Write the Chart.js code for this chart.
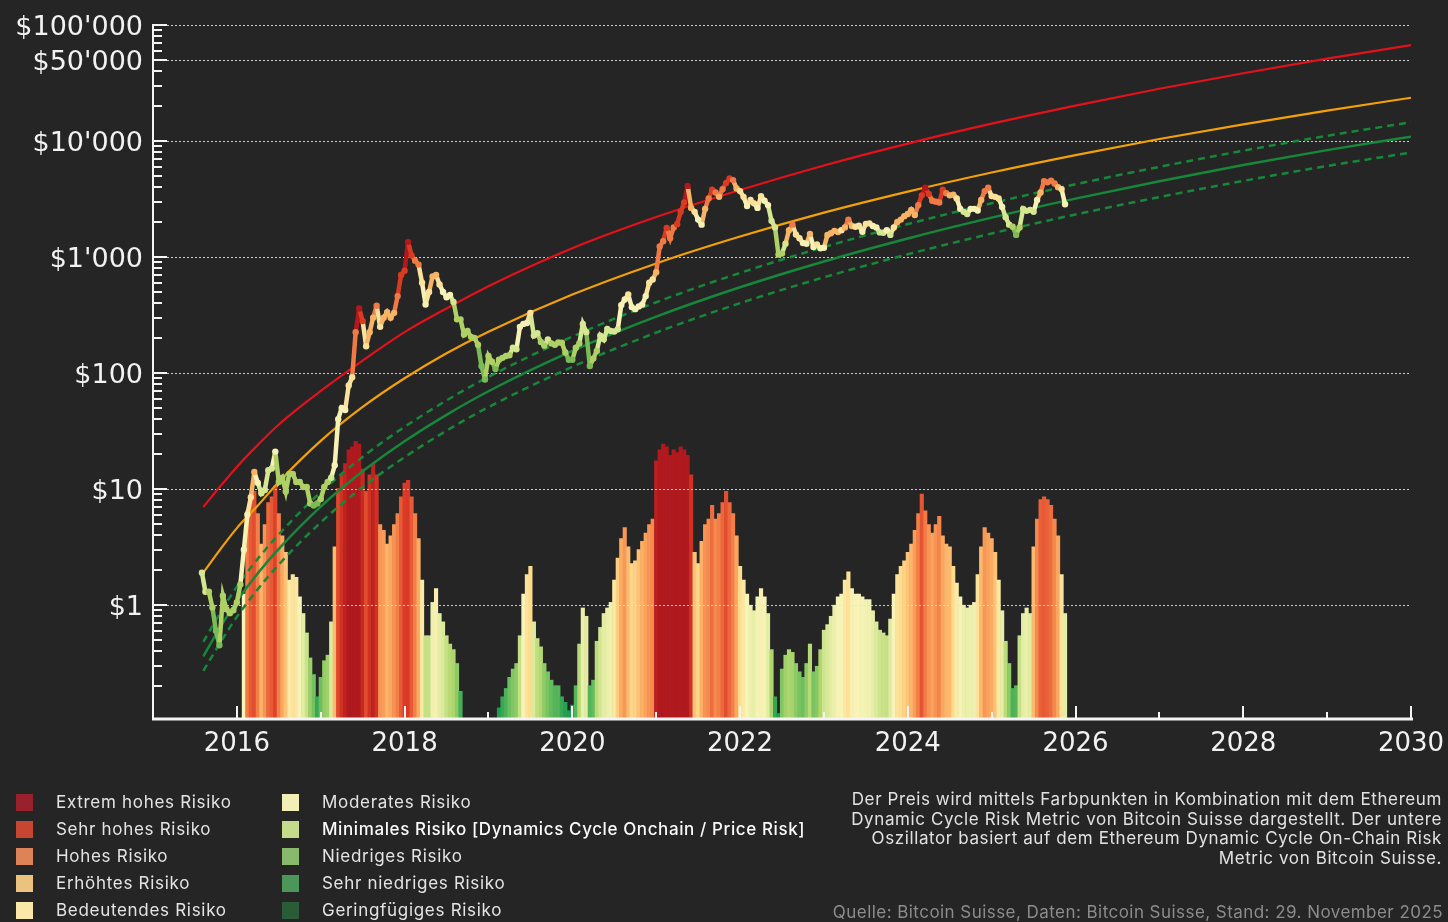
<!DOCTYPE html>
<html lang="de">
<head>
<meta charset="UTF-8">
<title>Ethereum Dynamic Cycle Risk</title>
<script src="https://cdn.jsdelivr.net/npm/chart.js"></script>
<style>
    body {
        margin: 0;
        background: #252525;
        overflow: hidden;
    }
    #wrap {
        position: relative;
        width: 1448px;
        height: 922px;
    }
    canvas {
        position: absolute;
        left: 0;
        top: 0;
    }
    .leg {
        position: absolute;
        font-family: 'Inter', sans-serif;
        font-size: 17px;
        letter-spacing: 0.7px;
        color: #e4e4e4;
        line-height: 27px;
        height: 27px;
        white-space: nowrap;
    }
    .leg span.sq {
        position: absolute;
        width: 17px;
        height: 17px;
        top: 5px;
    }
    .leg span.tx {
        position: absolute;
    }
    #note {
        position: absolute;
        right: 6px;
        top: 790px;
        text-align: right;
        font-family: 'Inter', sans-serif;
        font-size: 17px;
        letter-spacing: 0.6px;
        line-height: 19.5px;
        color: #e2e2e2;
        white-space: nowrap;
    }
    #source {
        position: absolute;
        right: 5px;
        top: 902px;
        font-family: 'Inter', sans-serif;
        font-size: 17px;
        letter-spacing: 0.45px;
        line-height: 20px;
        color: #8c8c8c;
        white-space: nowrap;
    }
</style>
</head>
<body>
<div id="wrap">
    <canvas id="chart" width="1448" height="922"></canvas>
    <div id="legend"></div>
    <div id="note">Der Preis wird mittels Farbpunkten in Kombination mit dem Ethereum<br>Dynamic Cycle Risk Metric von Bitcoin Suisse dargestellt. Der untere<br>Oszillator basiert auf dem Ethereum Dynamic Cycle On-Chain Risk<br>Metric von Bitcoin Suisse.</div>
    <div id="source">Quelle: Bitcoin Suisse, Daten: Bitcoin Suisse, Stand: 29. November 2025</div>
</div>

<script>
    // half-monthly samples, first one = 1 Aug 2015
    const startYear = 2015 + 7 / 12;
    const step = 1 / 24;

    // ETH price in USD
    const price = [
        1.9, 1.3, 1.3, 0.95, 0.6, 0.45, 1.2, 0.92, 0.85, 0.9,
        1.05, 1.5, 3.0, 6.0, 8.5, 14, 11.3, 9.2, 9.8, 14.5, 15, 21, 11.5, 12.5, 9.5, 13.5, 13.5, 11.5, 11.5, 10.4, 10.4, 7.5, 7.2, 7.5,
        8.2, 10.4, 11.5, 12.5, 16, 40, 50, 48, 78, 92, 225, 360, 280, 170, 225, 300, 380, 250, 300, 335, 300, 330, 460, 700,
        760, 1350, 1030, 930, 860, 600, 390, 500, 680, 700, 580, 500, 450, 470, 410, 290, 290, 215, 230, 205, 200, 175, 115, 88,
        140, 125, 108, 130, 135, 140, 142, 165, 160, 250, 265, 270, 330, 210, 220, 185, 172, 195, 180, 175, 183, 182, 150, 130,
        130, 165, 180, 265, 225, 115, 133, 155, 210, 195, 240, 230, 228, 238, 385, 430, 475, 370, 355, 375, 390, 460, 600, 640,
        740, 1230, 1370, 1780, 1450, 1800, 1920, 2450, 2950, 4100, 2650, 2450, 2100, 1900, 2600, 3200, 3800, 3600, 3300, 3850, 4350, 4750, 4600, 3900,
        3700, 3300, 2750, 3100, 2900, 2650, 3350, 3050, 2800, 2050, 1800, 1050, 1070, 1300, 1700, 1900, 1560, 1450, 1320, 1300, 1580, 1220, 1280, 1190,
        1200, 1550, 1600, 1680, 1640, 1700, 1800, 2100, 1850, 1820, 1860, 1650, 1930, 1950, 1850, 1800, 1630, 1620, 1700, 1550, 1800, 2000, 2100, 2250,
        2350, 2550, 2300, 2800, 3400, 3950, 3500, 3050, 3000, 2950, 3800, 3550, 3400, 3450, 3200, 2600, 2450, 2350, 2600, 2600, 2520, 3100, 3700, 3950,
        3350, 3300, 3200, 2700, 2200, 1900, 1820, 1550, 1800, 2600, 2500, 2550, 2450, 3100, 3600, 4500, 4400, 4550, 4300, 4000, 3850, 2850
    ];

    // risk class of each price dot: 0 = extrem hoch ... 9 = geringfuegig
    const priceRisk = [
        6, 6, 7, 7, 8, 8, 7, 7, 7, 7,
        7, 7, 5, 5, 4, 3, 5, 6, 6, 6, 6, 5, 7, 7, 7, 7, 7, 7, 7, 7, 7, 7, 8, 8,
        7, 7, 7, 6, 5, 5, 5, 5, 4, 4, 2, 0, 1, 4, 3, 3, 2, 4, 3, 3, 3, 3, 2, 1,
        1, 0, 1, 2, 2, 4, 5, 4, 3, 3, 4, 5, 5, 5, 6, 7, 7, 7, 7, 7, 7, 7, 8, 8,
        7, 7, 8, 7, 7, 7, 7, 6, 6, 5, 5, 5, 4, 6, 6, 7, 7, 6, 7, 7, 7, 7, 7, 8,
        8, 7, 7, 6, 6, 8, 7, 7, 6, 6, 6, 6, 6, 6, 5, 5, 4, 5, 5, 5, 5, 5, 4, 4,
        3, 2, 2, 1, 2, 2, 1, 1, 1, 0, 3, 4, 5, 5, 3, 2, 1, 2, 3, 2, 1, 1, 2, 3,
        4, 4, 5, 4, 4, 5, 4, 5, 5, 6, 6, 7, 7, 6, 3, 2, 4, 4, 5, 5, 3, 5, 4, 5,
        5, 3, 3, 3, 3, 4, 3, 2, 3, 4, 4, 5, 4, 4, 5, 5, 6, 6, 5, 6, 4, 3, 3, 3,
        3, 3, 3, 2, 1, 0, 1, 2, 2, 2, 1, 2, 3, 3, 4, 5, 6, 6, 5, 5, 5, 3, 2, 2,
        4, 4, 4, 5, 6, 6, 7, 8, 7, 6, 6, 6, 6, 5, 3, 2, 2, 2, 2, 3, 4, 5
    ];

    // on-chain risk oscillator (0..1), null = no bar
    const oscillator = [
        null, null, null, null, null, null, null, null, null, null,
        null, null, 0.45, 0.75, 0.8, 0.82, 0.74, 0.63, 0.7, 0.78, 0.8, 0.84, 0.74, 0.66, 0.6, 0.5, 0.52, 0.51, 0.44, 0.38, 0.31, 0.22, 0.16, 0.08,
        0.15, 0.21, 0.23, 0.35, 0.62, 0.83, 0.88, 0.92, 0.97, 0.98, 1.0, 0.99, 0.9, 0.82, 0.88, 0.92, 0.88, 0.7, 0.68, 0.63, 0.66, 0.7, 0.74, 0.8,
        0.85, 0.86, 0.8, 0.74, 0.65, 0.5, 0.3, 0.3, 0.42, 0.47, 0.38, 0.35, 0.3, 0.27, 0.25, 0.2, 0.1, null, null, null, null, null, null, null,
        null, null, null, 0.04, 0.08, 0.11, 0.15, 0.18, 0.2, 0.3, 0.45, 0.52, 0.55, 0.35, 0.29, 0.26, 0.2, 0.17, 0.14, 0.12, 0.12, 0.08, 0.06, 0.03,
        0.05, 0.12, 0.27, 0.4, 0.37, 0.12, 0.14, 0.28, 0.33, 0.38, 0.4, 0.42, 0.5, 0.58, 0.65, 0.69, 0.62, 0.56, 0.57, 0.61, 0.64, 0.67, 0.7, 0.72,
        0.93, 0.97, 0.99, 0.98, 0.95, 0.97, 0.96, 0.98, 0.97, 0.95, 0.88, 0.6, 0.56, 0.64, 0.7, 0.72, 0.77, 0.72, 0.74, 0.78, 0.82, 0.78, 0.74, 0.66,
        0.55, 0.5, 0.45, 0.41, 0.39, 0.44, 0.47, 0.44, 0.38, 0.25, 0.08, 0.02, 0.18, 0.23, 0.25, 0.24, 0.2, 0.17, 0.15, 0.2, 0.27, 0.17, 0.19, 0.25,
        0.32, 0.34, 0.37, 0.41, 0.44, 0.45, 0.5, 0.53, 0.47, 0.45, 0.45, 0.44, 0.43, 0.43, 0.39, 0.35, 0.32, 0.31, 0.3, 0.36, 0.45, 0.52, 0.55, 0.57,
        0.6, 0.63, 0.68, 0.74, 0.81, 0.75, 0.7, 0.67, 0.7, 0.73, 0.66, 0.63, 0.62, 0.55, 0.49, 0.44, 0.41, 0.4, 0.41, 0.42, 0.52, 0.62, 0.69, 0.67,
        0.65, 0.6, 0.5, 0.39, 0.28, 0.2, 0.11, 0.12, 0.3, 0.38, 0.4, 0.38, 0.62, 0.72, 0.79, 0.8, 0.79, 0.77, 0.72, 0.66, 0.52, 0.38
    ];

    // power-law bands
    const bandYears = [2015.6, 2015.8, 2016, 2016.25, 2016.5, 2017, 2017.5, 2018, 2018.5, 2019, 2020, 2021, 2022, 2023, 2024, 2025, 2026, 2027, 2028, 2029, 2030];
    const redBand = [7.0, 10.5, 15.5, 24, 36, 70, 128, 225, 360, 560, 1190, 2210, 3780, 6150, 9500, 14100, 20200, 28200, 38400, 51300, 67000];
    const orangeBand = [1.9, 3.0, 4.6, 7.2, 11.5, 26, 51, 90, 148, 227, 474, 880, 1500, 2410, 3660, 5350, 7560, 10400, 13900, 18300, 23600];
    const greenUpper = [0.48, 0.85, 1.44, 2.5, 4.06, 9.4, 18.9, 34.3, 58, 92.6, 206, 407, 729, 1217, 1922, 2906, 4236, 5985, 8246, 11090, 14500];
    const greenBand = [0.36, 0.64, 1.08, 1.88, 3.05, 7.05, 14.2, 25.8, 43.6, 69.6, 155, 306, 548, 915, 1445, 2185, 3185, 4500, 6200, 8340, 10900];
    const greenLower = [0.27, 0.47, 0.79, 1.37, 2.23, 5.15, 10.4, 18.8, 31.8, 50.8, 113, 223, 400, 668, 1055, 1595, 2325, 3285, 4526, 6088, 7950];

    // axis ticks
    const yTicks = [1, 10, 100, 1000, 10000, 50000, 100000];
    const xTicks = [2016, 2018, 2020, 2022, 2024, 2026, 2028, 2030];

    // legend
    const riskLabels = [
        'Extrem hohes Risiko', 'Sehr hohes Risiko', 'Hohes Risiko', 'Erhöhtes Risiko', 'Bedeutendes Risiko',
        'Moderates Risiko', 'Minimales Risiko [Dynamics Cycle Onchain / Price Risk]', 'Niedriges Risiko', 'Sehr niedriges Risiko', 'Geringfügiges Risiko'
    ];
    const legendColors = ['#98212b', '#c74632', '#dd8357', '#ebc27e', '#fbe8a9', '#f1eeb6', '#c3db8b', '#89ba6b', '#4b9658', '#295c37'];
    const dotColors = ['#b3171c', '#d83a22', '#ef7a45', '#f7b466', '#fbe29c', '#f6f1b4', '#d6e794', '#aed065', '#7cba55', '#3d9b4a'];

    const oscStops = [
        [0.05, [31, 156, 79]], [0.15, [108, 191, 94]], [0.25, [174, 214, 109]], [0.35, [220, 234, 156]],
        [0.45, [248, 244, 184]], [0.55, [254, 220, 142]], [0.65, [252, 172, 98]], [0.75, [242, 122, 69]],
        [0.85, [220, 59, 38]], [0.95, [176, 25, 29]]
    ];

    function oscColor(v) {
        if (v <= oscStops[0][0]) return 'rgb(' + oscStops[0][1].join(',') + ')';
        for (let i = 1; i < oscStops.length; i++) {
            if (v <= oscStops[i][0]) {
                const a = oscStops[i - 1], b = oscStops[i];
                const f = (v - a[0]) / (b[0] - a[0]);
                const c = a[1].map((ch, k) => Math.round(ch + (b[1][k] - ch) * f));
                return 'rgb(' + c.join(',') + ')';
            }
        }
        return 'rgb(' + oscStops[oscStops.length - 1][1].join(',') + ')';
    }

    // build legend
    const legendEl = document.getElementById('legend');
    riskLabels.forEach((label, i) => {
        const col = Math.floor(i / 5), row = i % 5;
        const div = document.createElement('div');
        div.className = 'leg';
        div.style.left = (col === 0 ? 16 : 282) + 'px';
        div.style.top = (789 + row * 27) + 'px';
        div.innerHTML = '<span class="sq" style="left:0;background:' + legendColors[i] + '"></span>' +
            '<span class="tx" style="left:40px;' + (i === 6 ? 'color:#fafafa;font-weight:500;letter-spacing:0.6px;' : '') + '">' + label + '</span>';
        legendEl.appendChild(div);
    });

    const priceData = price.map((p, i) => ({ x: startYear + i * step, y: p }));
    const oscData = [];
    oscillator.forEach((v, i) => {
        if (v !== null) oscData.push({ x: startYear + i * step, y: v });
    });
    const band = arr => arr.map((v, i) => ({ x: bandYears[i], y: v }));

    function fmtDollar(v) {
        return '$' + String(v).replace(/\B(?=(\d{3})+(?!\d))/g, "'");
    }

    // grid over the bars, tick marks and axis lines
    const axesPlugin = {
        id: 'axesPlugin',
        afterDatasetDraw(chart, args) {
            if (args.index !== 0) return;
            const { ctx, chartArea } = chart;
            const ys = chart.scales.y;
            ctx.save();
            ctx.strokeStyle = 'rgba(225,225,225,0.9)';
            ctx.lineWidth = 1;
            ctx.setLineDash([2, 2]);
            yTicks.forEach(v => {
                const y = Math.round(ys.getPixelForValue(v)) + 0.5;
                ctx.beginPath();
                ctx.moveTo(chartArea.left + 14, y);
                ctx.lineTo(chartArea.right, y);
                ctx.stroke();
            });
            ctx.restore();
        },
        afterDraw(chart) {
            const { ctx, chartArea } = chart;
            const ys = chart.scales.y, xs = chart.scales.x;
            ctx.save();
            ctx.strokeStyle = '#f4f4f4';
            ctx.lineWidth = 2;
            // minor y ticks
            for (let d = -1; d <= 4; d++) {
                for (let m = 2; m <= 9; m++) {
                    const v = m * Math.pow(10, d);
                    if (v < ys.min || v > ys.max || yTicks.includes(v)) continue;
                    const y = Math.round(ys.getPixelForValue(v));
                    ctx.beginPath();
                    ctx.moveTo(chartArea.left, y);
                    ctx.lineTo(chartArea.left + 9, y);
                    ctx.stroke();
                }
            }
            yTicks.forEach(v => {
                const y = Math.round(ys.getPixelForValue(v));
                ctx.beginPath();
                ctx.moveTo(chartArea.left, y);
                ctx.lineTo(chartArea.left + 14, y);
                ctx.stroke();
            });
            // x ticks, every year
            for (let yr = 2016; yr <= 2030; yr++) {
                const x = Math.round(xs.getPixelForValue(yr));
                const len = yr % 2 === 0 ? 13 : 7;
                ctx.beginPath();
                ctx.moveTo(x, chartArea.bottom);
                ctx.lineTo(x, chartArea.bottom - len);
                ctx.stroke();
            }
            // axis lines
            ctx.beginPath();
            ctx.moveTo(chartArea.left, chartArea.top - 1);
            ctx.lineTo(chartArea.left, chartArea.bottom + 1);
            ctx.stroke();
            ctx.lineWidth = 3;
            ctx.beginPath();
            ctx.moveTo(chartArea.left - 1, chartArea.bottom);
            ctx.lineTo(chartArea.right + 2, chartArea.bottom);
            ctx.stroke();
            ctx.restore();
        }
    };

    const lineBase = {
        type: 'line',
        yAxisID: 'y',
        pointRadius: 0,
        borderWidth: 2.2,
        fill: false,
        cubicInterpolationMode: 'monotone',
        order: 5
    };

    new Chart(document.getElementById('chart'), {
        type: 'bar',
        data: {
            datasets: [
                {
                    type: 'bar',
                    data: oscData,
                    yAxisID: 'y2',
                    backgroundColor: c => oscColor(c.raw ? c.raw.y : 0),
                    borderWidth: 0,
                    barPercentage: 1,
                    categoryPercentage: 1,
                    order: 10
                },
                Object.assign({}, lineBase, { data: band(redBand), borderColor: '#e3121a' }),
                Object.assign({}, lineBase, { data: band(orangeBand), borderColor: '#f3a106' }),
                Object.assign({}, lineBase, { data: band(greenUpper), borderColor: '#17873a', borderDash: [7, 5], borderWidth: 2.5 }),
                Object.assign({}, lineBase, { data: band(greenBand), borderColor: '#17873a', borderWidth: 2.5 }),
                Object.assign({}, lineBase, { data: band(greenLower), borderColor: '#17873a', borderDash: [7, 5], borderWidth: 2.5 }),
                {
                    type: 'line',
                    data: priceData,
                    yAxisID: 'y',
                    borderWidth: 4.5,
                    tension: 0,
                    segment: {
                        borderColor: c => dotColors[priceRisk[c.p1DataIndex]]
                    },
                    pointRadius: 3.2,
                    pointBorderWidth: 0,
                    pointBackgroundColor: priceRisk.map(r => dotColors[r]),
                    order: 1
                }
            ]
        },
        options: {
            responsive: false,
            animation: false,
            layout: { padding: { top: 25, right: 37, left: 0, bottom: 0 } },
            plugins: {
                legend: { display: false },
                tooltip: { enabled: false }
            },
            scales: {
                x: {
                    type: 'linear',
                    min: 2015,
                    max: 2030,
                    offset: false,
                    grid: { display: false, drawTicks: false },
                    border: { display: false },
                    afterBuildTicks: s => { s.ticks = xTicks.map(v => ({ value: v })); },
                    afterFit: s => { s.height = 203; s.paddingLeft = 0; s.paddingRight = 0; },
                    ticks: {
                        autoSkip: false,
                        maxRotation: 0,
                        padding: 10,
                        color: '#f2f2f2',
                        font: { family: 'DejaVu Sans', size: 26 },
                        callback: v => String(v)
                    }
                },
                y: {
                    type: 'logarithmic',
                    position: 'left',
                    min: 0.104,
                    max: 100000,
                    grid: { display: false, drawTicks: false },
                    border: { display: false },
                    afterBuildTicks: s => { s.ticks = yTicks.map(v => ({ value: v })); },
                    afterFit: s => { s.width = 153; s.paddingTop = 0; s.paddingBottom = 0; },
                    ticks: {
                        padding: 10,
                        labelOffset: 3,
                        color: '#f2f2f2',
                        font: { family: 'DejaVu Sans', size: 27 },
                        callback: v => fmtDollar(v)
                    }
                },
                y2: {
                    type: 'linear',
                    display: false,
                    min: 0,
                    max: 2.5
                }
            }
        },
        plugins: [axesPlugin]
    });
</script>
</body>
</html>
